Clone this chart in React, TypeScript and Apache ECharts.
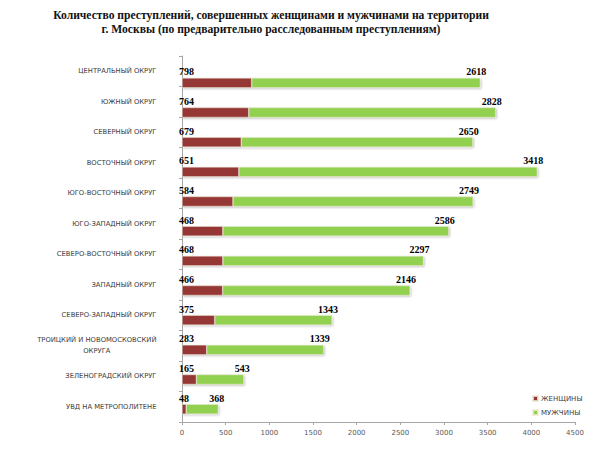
import React, { useEffect, useRef } from "react";
import * as echarts from "echarts";

const categories = [
  "ЦЕНТРАЛЬНЫЙ ОКРУГ",
  "ЮЖНЫЙ ОКРУГ",
  "СЕВЕРНЫЙ ОКРУГ",
  "ВОСТОЧНЫЙ ОКРУГ",
  "ЮГО-ВОСТОЧНЫЙ ОКРУГ",
  "ЮГО-ЗАПАДНЫЙ ОКРУГ",
  "СЕВЕРО-ВОСТОЧНЫЙ ОКРУГ",
  "ЗАПАДНЫЙ ОКРУГ",
  "СЕВЕРО-ЗАПАДНЫЙ ОКРУГ",
  "ТРОИЦКИЙ И НОВОМОСКОВСКИЙ\nОКРУГА",
  "ЗЕЛЕНОГРАДСКИЙ ОКРУГ",
  "УВД НА МЕТРОПОЛИТЕНЕ",
];
const women = [798, 764, 679, 651, 584, 468, 468, 466, 375, 283, 165, 48];
const men = [2618, 2828, 2650, 3418, 2749, 2586, 2297, 2146, 1343, 1339, 543, 368];
const seriesNames = ["ЖЕНЩИНЫ", "МУЖЧИНЫ"];
const titleLines = [
  "Количество преступлений, совершенных женщинами и мужчинами на территории",
  "г. Москвы (по предварительно расследованным преступлениям)",
];

const RED = "#953735";
const GREEN = "#92D050";

export default function App() {
  const ref = useRef<HTMLDivElement>(null);
  useEffect(() => {
    document.body.style.margin = "0";
    const chart = echarts.init(ref.current!, null, { renderer: "svg" });
    const valueLabel = {
      show: true,
      fontFamily: "Liberation Serif",
      fontWeight: "bold",
      fontSize: 10,
      color: "#000",
      verticalAlign: "bottom",
    };
    const barStyle = (color: string) => ({
      color,
      borderColor: "rgba(240,235,215,0.8)",
      borderWidth: 0.6,
      shadowColor: "rgba(0,0,0,0.28)",
      shadowBlur: 2,
      shadowOffsetX: 1,
      shadowOffsetY: 1,
    });
    chart.setOption({
      animation: false,
      backgroundColor: "#fff",
      graphic: [
        {
          type: "text",
          x: 271,
          y: 8,
          style: {
            text: titleLines.join("\n"),
            align: "center",
            verticalAlign: "top",
            fontFamily: "Liberation Serif",
            fontWeight: "bold",
            fontSize: 11.6,
            lineHeight: 14,
            fill: "#111",
          },
        },
      ],
      legend: {
        orient: "vertical",
        left: 527,
        top: 390,
        itemWidth: 5,
        itemHeight: 5,
        itemGap: 7,
        icon: "rect",
        data: seriesNames,
        textStyle: { fontSize: 7, color: "#404040", fontFamily: "DejaVu Sans", padding: [0, 0, 0, -2] },
      },
      grid: [
        { left: 182, right: 29, top: 56, bottom: 31 },
        { left: 182, right: 29, top: 68, bottom: 29 },
      ],
      xAxis: [
        {
          gridIndex: 0,
          type: "value",
          min: 0,
          max: 4500,
          interval: 500,
          axisLine: { show: true, lineStyle: { color: "#a6a6a6", width: 1 } },
          axisTick: { show: true, length: 3, lineStyle: { color: "#a6a6a6" } },
          splitLine: { show: false },
          axisLabel: {
            fontSize: 7,
            color: "#595959",
            margin: 7,
            fontFamily: "DejaVu Sans",
            formatter: (v: number) => String(v),
          },
        },
        {
          gridIndex: 1,
          type: "value",
          min: 0,
          max: 4500,
          show: false,
        },
      ],
      yAxis: [
        {
          gridIndex: 0,
          type: "category",
          data: categories,
          inverse: true,
          offset: 18.5,
          axisLine: { show: true, lineStyle: { color: "#a6a6a6" } },
          axisTick: { show: true, length: 3, lineStyle: { color: "#a6a6a6" } },
          axisLabel: {
            margin: 7,
            fontSize: 6.8,
            color: "#404040",
            fontFamily: "DejaVu Sans",
            lineHeight: 11,
            formatter: (v: string) =>
              v
                .split("\n")
                .map((s) => "{c|" + s + "}")
                .join("\n"),
            rich: {
              c: { align: "center", fontSize: 6.8, color: "#404040", fontFamily: "DejaVu Sans", lineHeight: 11 },
            },
          },
        },
        {
          gridIndex: 1,
          type: "category",
          data: categories,
          inverse: true,
          show: false,
        },
      ],
      series: [
        {
          name: seriesNames[0],
          type: "bar",
          stack: "total",
          xAxisIndex: 1,
          yAxisIndex: 1,
          barWidth: 10,
          data: women,
          itemStyle: barStyle(RED),
          label: { ...valueLabel, position: [-3, -1], align: "left" },
        },
        {
          name: seriesNames[1],
          type: "bar",
          stack: "total",
          xAxisIndex: 1,
          yAxisIndex: 1,
          barWidth: 10,
          data: men,
          itemStyle: barStyle(GREEN),
          label: { ...valueLabel, position: ["100%", -1], align: "right", offset: [6, 0] },
        },
      ],
    });
    return () => chart.dispose();
  }, []);
  return <div ref={ref} style={{ width: 604, height: 453 }} />;
}
